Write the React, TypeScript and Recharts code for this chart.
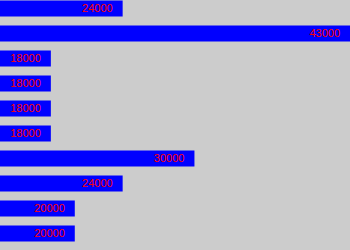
import { Bar, BarChart, LabelList, XAxis, YAxis } from "recharts"

const names = ["r1", "r2", "r3", "r4", "r5", "r6", "r7", "r8", "r9", "r10"]
const values = [24000, 43000, 18000, 18000, 18000, 18000, 30000, 24000, 20000, 20000]

const data = names.map((name, i) => ({ name, value: values[i] }))

export default function App() {
  return (
    <div style={{ position: "fixed", top: 0, left: 0, width: 350, height: 250, background: "#cccccc" }}>
      <BarChart
        width={350}
        height={250}
        data={data}
        layout="vertical"
        margin={{ top: -4.5, right: 0, bottom: 4.5, left: 0 }}
        barCategoryGap={0}
      >
        <XAxis type="number" hide domain={[13750, 43000]} allowDataOverflow />
        <YAxis type="category" dataKey="name" hide />
        <Bar dataKey="value" fill="#0000ff" barSize={16} isAnimationActive={false}>
          <LabelList
            dataKey="value"
            position="insideRight"
            offset={10}
            fill="#ff0000"
            style={{ fontFamily: "Liberation Sans", fontSize: 11 }}
          />
        </Bar>
      </BarChart>
    </div>
  )
}
